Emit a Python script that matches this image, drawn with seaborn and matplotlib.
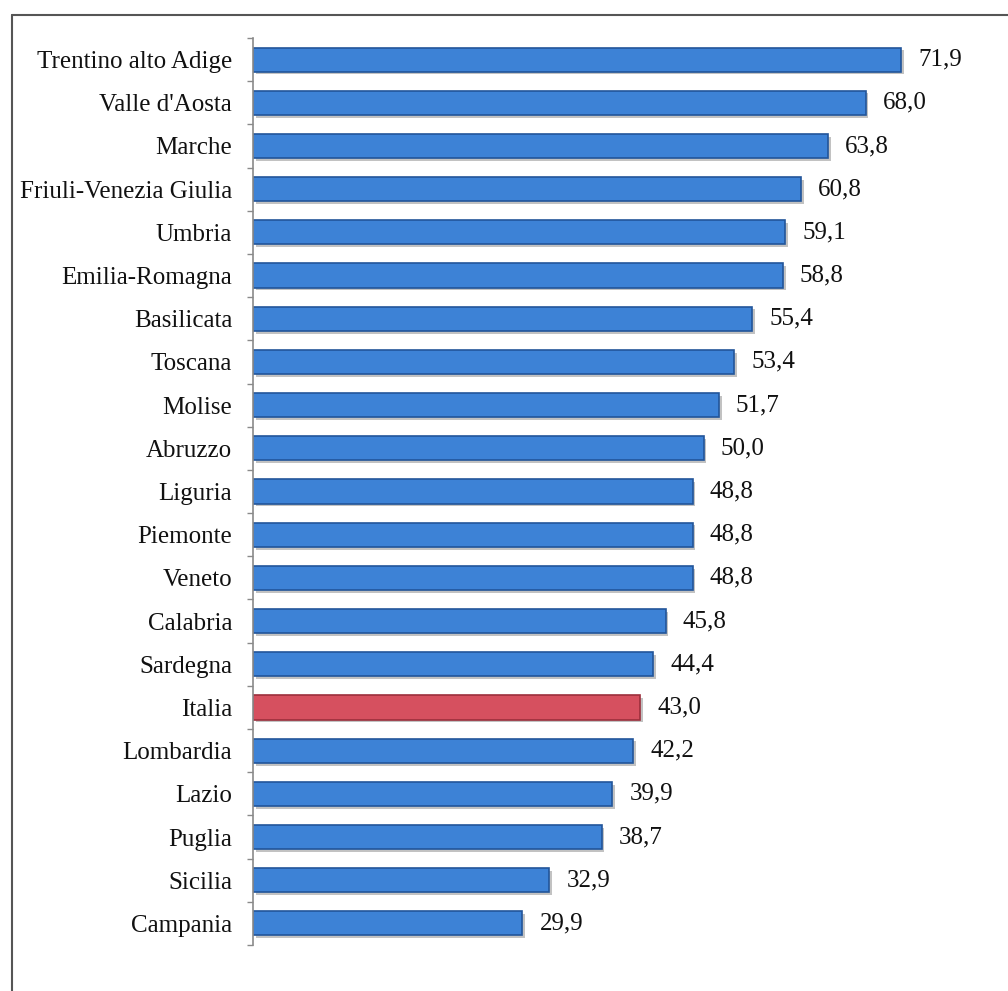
import matplotlib
matplotlib.use("Agg")
import matplotlib.pyplot as plt
import matplotlib.patheffects as pe
from matplotlib.lines import Line2D
import seaborn as sns
import pandas as pd

regions = [
    "Trentino alto Adige", "Valle d'Aosta", "Marche", "Friuli-Venezia Giulia",
    "Umbria", "Emilia-Romagna", "Basilicata", "Toscana", "Molise", "Abruzzo",
    "Liguria", "Piemonte", "Veneto", "Calabria", "Sardegna", "Italia",
    "Lombardia", "Lazio", "Puglia", "Sicilia", "Campania",
]
values = [
    71.9, 68.0, 63.8, 60.8, 59.1, 58.8, 55.4, 53.4, 51.7, 50.0,
    48.8, 48.8, 48.8, 45.8, 44.4, 43.0, 42.2, 39.9, 38.7, 32.9, 29.9,
]
highlight = "Italia"

df = pd.DataFrame({"regione": regions, "valore": values})
df["gruppo"] = ["nazionale" if r == highlight else "regionale" for r in regions]

sns.set_theme(style="white")
plt.rcParams["font.family"] = ["Liberation Serif", "DejaVu Serif"]

fig = plt.figure(figsize=(10.08, 9.91), dpi=100)
ax = fig.add_axes([253 / 1008, 1 - 945 / 991, (80 * 9.01) / 1008, 907 / 991])

palette = {"regionale": "#3d82d6", "nazionale": "#d6505f"}
sns.barplot(data=df, y="regione", x="valore", hue="gruppo", palette=palette,
            dodge=False, legend=False, width=0.56, ax=ax, saturation=1)

# darker outline per group plus a soft drop shadow on every bar
edge = {"regionale": "#22559a", "nazionale": "#9c2f3c"}
for container in ax.containers:
    for bar in container:
        bar.set_path_effects([
            pe.SimplePatchShadow(offset=(2, -2), shadow_rgbFace="#9a9a9a", alpha=0.6),
            pe.Normal(),
        ])
        if bar.get_width() > 0:
            y_idx = int(round(bar.get_y() + bar.get_height() / 2))
            bar.set_edgecolor(edge[df["gruppo"].iloc[y_idx]])
            bar.set_linewidth(1.2)

for i, v in enumerate(values):
    ax.text(v + 1.9, i, f"{v:.1f}".replace(".", ","), va="center", ha="left",
            fontsize=18, color="#111111")

ax.set_xlim(0, 80)
ax.set_ylim(20.5, -0.5)
ax.set_xlabel("")
ax.set_ylabel("")
ax.set_xticks([])
ax.set_yticks([i - 0.5 for i in range(len(regions) + 1)], minor=False)
ax.set_yticklabels([])
ax.set_yticks(range(len(regions)), minor=True)
ax.set_yticklabels(regions, minor=True, fontsize=18, color="#111111")
ax.tick_params(axis="y", which="major", length=4, width=1, color="#8a8a8a", direction="out", left=True)
ax.tick_params(axis="y", which="minor", length=0, pad=15)
for side in ("top", "right", "bottom"):
    ax.spines[side].set_visible(False)
ax.spines["left"].set_color("#8a8a8a")
ax.spines["left"].set_linewidth(1.2)

# outer frame of the figure
fig.add_artist(Line2D([12 / 1008, 12 / 1008], [0, 1 - 15 / 991], transform=fig.transFigure,
                      color="#555555", linewidth=1.5))
fig.add_artist(Line2D([12 / 1008, 1], [1 - 15 / 991, 1 - 15 / 991], transform=fig.transFigure,
                      color="#555555", linewidth=1.5))

fig.savefig("out.png", dpi=100)
